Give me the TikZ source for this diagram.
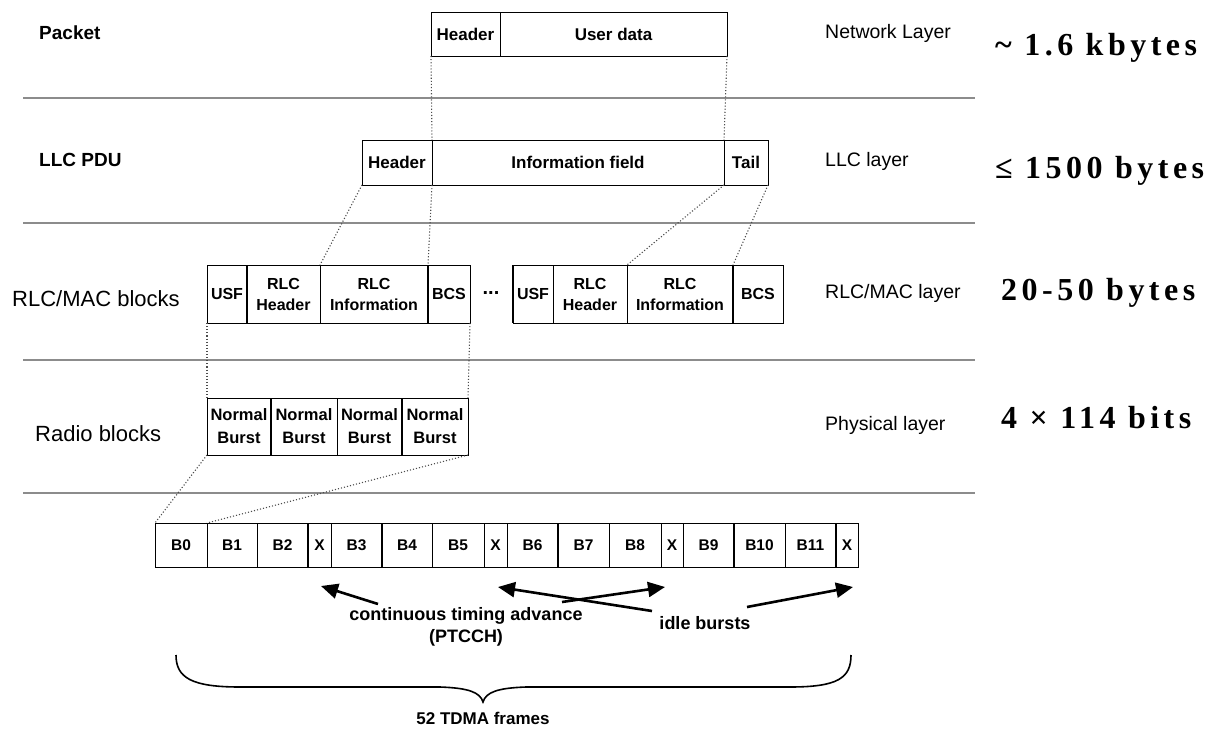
\documentclass[tikz,border=0pt]{standalone}
\usepackage{fontspec}
\setmainfont{Liberation Sans}
\newfontfamily\bigserif[LetterSpace=14]{Liberation Serif}
\usetikzlibrary{arrows.meta}
\newcommand\fsz[2]{\fontsize{#1}{#2}\selectfont}
\begin{document}
\begin{tikzpicture}[x=1pt,y=-1pt,
  cell/.style={draw=black, line width=1pt, anchor=north west, inner sep=0pt, outer sep=0pt, align=center, font=\fsz{17}{19}\bfseries},
  rcell/.style={cell, minimum height=58pt, font=\fsz{16}{21}\bfseries},
  bcell/.style={cell, minimum height=57pt, font=\fsz{16.5}{23}\bfseries},
  fcell/.style={cell, minimum height=44pt, font=\fsz{15.5}{17}\bfseries},
  thickdiv/.style={line width=2.4pt},
  sep/.style={draw=black!45, line width=2.6pt},
  link/.style={draw=black!70, dotted, line width=1.1pt},
  leftlab/.style={anchor=west, inner sep=0pt},
  rightlab/.style={anchor=west, inner sep=0pt, font=\fsz{19.5}{21}},
  sizelab/.style={anchor=west, inner sep=0pt, font=\fsz{32}{34}\bigserif\bfseries},
  note/.style={inner sep=0pt, font=\fsz{18}{22}\bfseries, align=center},
  bigarrow/.style={line width=2.6pt, -{Triangle[length=17pt,width=15pt]}}
]
\useasboundingbox[fill=white] (0,0) rectangle (1216,731);

% separators
\draw[sep] (23,98) -- (975,98);
\draw[sep] (23,223) -- (975,223);
\draw[sep] (23,360) -- (975,360);
\draw[sep] (23,493) -- (975,493);

% left labels
\node[leftlab, font=\fsz{19}{21}\bfseries] (lpacket) at (39,33) {Packet};
\node[leftlab, font=\fsz{19}{21}\bfseries] (lllc) at (39,160) {LLC PDU};
\node[leftlab, font=\fsz{22}{24}] (lrlc) at (12,299) {RLC/MAC blocks};
\node[leftlab, font=\fsz{22}{24}] (lradio) at (35,434) {Radio blocks};

% right labels
\node[rightlab] (rnet) at (825,33) {Network Layer};
\node[rightlab] (rllc) at (825,161) {LLC layer};
\node[rightlab] (rrlc) at (825,293) {RLC/MAC layer};
\node[rightlab] (rphy) at (825,425) {Physical layer};

\node[sizelab] (s1) at (995,48) {\textasciitilde\ 1.6 kbytes};
\node[sizelab] (s2) at (995,171) {≤ 1500 bytes};
\node[sizelab] (s3) at (1001,293) {20-50 bytes};
\node[sizelab] (s4) at (1001,418) {4 × 114 bits};

% network packet
\node[cell, minimum width=69pt, minimum height=44pt] (nh) at (431,12) {Header};
\node[cell, minimum width=227pt, minimum height=44pt] (nd) at (500,12) {User data};

% LLC PDU
\node[cell, minimum width=70pt, minimum height=45pt] (lh) at (362,140) {Header};
\node[cell, minimum width=292pt, minimum height=45pt] (li) at (432,140) {Information field};
\node[cell, minimum width=44pt, minimum height=45pt] (lt) at (724,140) {Tail};

% RLC/MAC blocks
\node[rcell, minimum width=40pt] (r1a) at (207,265) {USF};
\node[rcell, minimum width=73pt] (r1b) at (247,265) {RLC\\Header};
\node[rcell, minimum width=108pt] (r1c) at (320,265) {RLC\\Information};
\node[rcell, minimum width=42pt] (r1d) at (428,265) {BCS};
\draw[thickdiv] (r1b.north west) -- (r1b.south west);
\draw[thickdiv] (r1d.north west) -- (r1d.south west);
\node[inner sep=0pt, font=\fsz{20}{22}\bfseries] (dots) at (491,293) {...};
\node[rcell, minimum width=40pt] (r2a) at (513,265) {USF};
\node[rcell, minimum width=74pt] (r2b) at (553,265) {RLC\\Header};
\node[rcell, minimum width=106pt] (r2c) at (627,265) {RLC\\Information};
\node[rcell, minimum width=50pt] (r2d) at (733,265) {BCS};
\draw[thickdiv] (r2a.north west) -- (r2a.south west);
\draw[thickdiv] (r2d.north west) -- (r2d.south west);

% Radio blocks
\node[bcell, minimum width=64pt] (b1) at (207,398) {Normal\\Burst};
\node[bcell, minimum width=66pt] (b2) at (271,398) {Normal\\Burst};
\node[bcell, minimum width=65pt] (b3) at (337,398) {Normal\\Burst};
\node[bcell, minimum width=66pt] (b4) at (402,398) {Normal\\Burst};
\draw[thickdiv] (b2.north west) -- (b2.south west);
\draw[thickdiv] (b4.north west) -- (b4.south west);

% TDMA frame row
\foreach \a/\b/\t [count=\i] in {155/207/B0,207/257/B1,257/308/B2,308/331/X,331/382/B3,382/432/B4,432/484/B5,484/507/X,507/558/B6,558/609/B7,609/661/B8,661/683/X,683/734/B9,734/785/B10,785/836/B11,836/858/X}
  \node[fcell, minimum width={\b-\a}] (f\i) at (\a,523) {\t};
\foreach \k in {4,6,10,14,16}
  \draw[line width=1.8pt] (f\k.north west) -- (f\k.south west);

% dotted mapping lines
\draw[link] (nh.south west) -- (li.north west);
\draw[link] (nd.south east) -- (lt.north west);
\draw[link] (lh.south west) -- (r1c.north west);
\draw[link] (lh.south east) -- (r1d.north west);
\draw[link] (li.south east) -- (r2c.north west);
\draw[link] (lt.south east) -- (r2d.north west);
\draw[link] (r1a.south west) -- (b1.north west);
\draw[link] (r1d.south east) -- (b4.north east);
\draw[link] (b1.south west) -- (f1.north west);
\draw[link] (b4.south east) -- (f2.north west);

% annotations
\node[note] (cta) at (466,616) {continuous timing advance};
\node[note] (ptcch) at (466,638) {(PTCCH)};
\node[note] (idle) at (705,623) {idle bursts};
\node[note, font=\fsz{17}{20}\bfseries] (tdma) at (483,718) {52 TDMA frames};

\coordinate (a1s) at (378,604);
\coordinate (a1e) at (321,586);
\coordinate (a2s) at (562,602);
\coordinate (a2e) at (665,587);
\coordinate (a3s) at (652,611);
\coordinate (a3e) at (498,587);
\coordinate (a4s) at (747,607);
\coordinate (a4e) at (853,587);
\draw[bigarrow] (a1s) -- (a1e);
\draw[bigarrow] (a2s) -- (a2e);
\draw[bigarrow] (a3s) -- (a3e);
\draw[bigarrow] (a4s) -- (a4e);

% brace
\coordinate (brl) at (176,655);
\coordinate (brm) at (483,702);
\coordinate (brr) at (851,655);
\draw[line width=1.6pt] (brl) .. controls (176,678) and (192,687) .. (240,687)
  -- (440,687) .. controls (468,688) and (480,692) .. (brm)
  .. controls (486,692) and (498,688) .. (526,687)
  -- (790,687) .. controls (838,687) and (851,678) .. (brr);
\end{tikzpicture}
\end{document}
